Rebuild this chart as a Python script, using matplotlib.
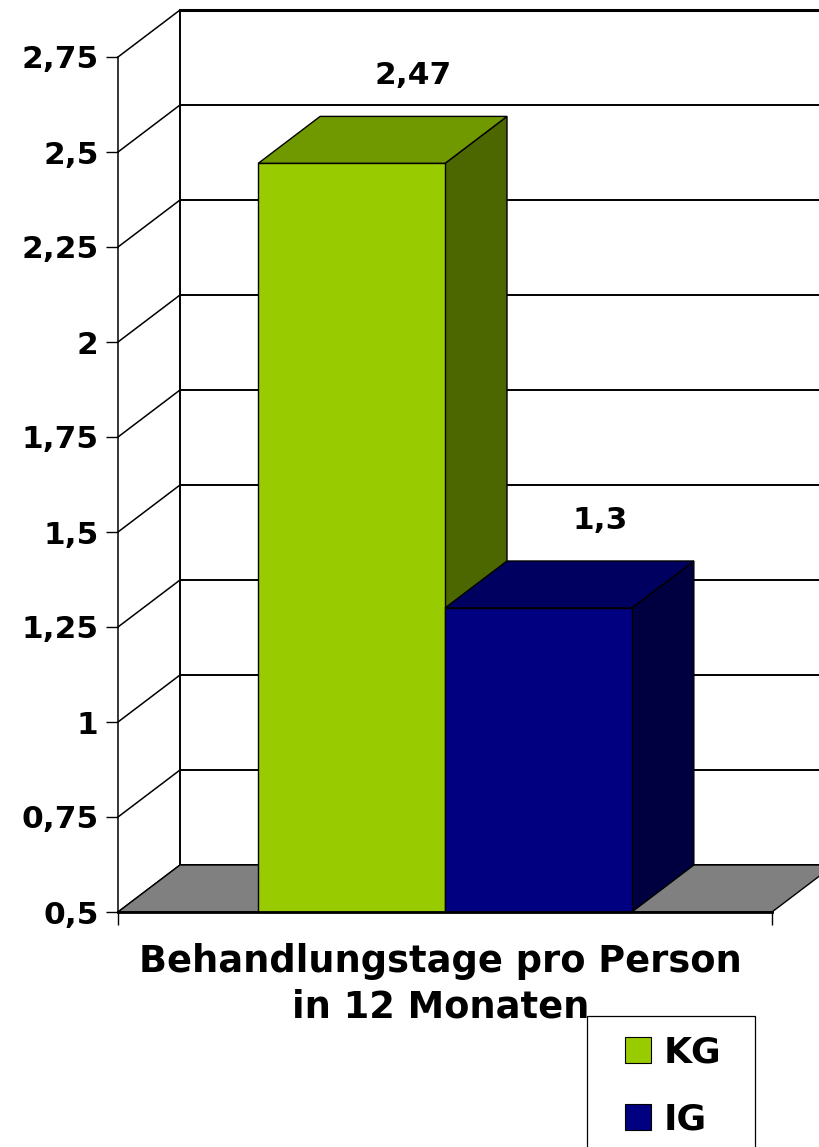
import numpy as np
import matplotlib
matplotlib.use("Agg")
import matplotlib.pyplot as plt
from matplotlib.patches import Polygon, Patch, Rectangle
from matplotlib.legend_handler import HandlerPatch
from matplotlib.transforms import IdentityTransform, ScaledTranslation

# ---------------- data ----------------
series = ["KG", "IG"]
values = [2.47, 1.3]
value_labels = ["2,47", "1,3"]
category = "Behandlungstage pro Person\nin 12 Monaten"
yticks = [0.5, 0.75, 1.0, 1.25, 1.5, 1.75, 2.0, 2.25, 2.5, 2.75]
ytick_labels = ["0,5", "0,75", "1", "1,25", "1,5", "1,75", "2", "2,25", "2,5", "2,75"]

# ---------------- style ----------------
front_colors = ["#99CC00", "#000080"]
top_colors = ["#709900", "#000060"]
side_colors = ["#4C6600", "#000040"]
floor_color = "#808080"
gap_width = 1.5  # Excel gap width 150 %
depth_in = (0.62, 0.47)  # 3-D depth offset (inches, right / up)

W, H, DPI = 820, 1147, 100
fig = plt.figure(figsize=(W / DPI, H / DPI), dpi=DPI)
ax = fig.add_axes([118 / W, (H - 912) / H, 654 / W, 855 / H])
ax.set_xlim(0, 1)
ax.set_ylim(yticks[0], yticks[-1])
ax.set_facecolor("none")

for s in ["top", "right"]:
    ax.spines[s].set_visible(False)
ax.spines["left"].set_linewidth(1.1)
ax.spines["bottom"].set_linewidth(2.0)
ax.spines["left"].set_zorder(5)
ax.spines["bottom"].set_zorder(5)

FONT = dict(family="DejaVu Sans", fontweight="bold")

ax.set_yticks(yticks)
ax.set_yticklabels(ytick_labels, fontsize=22.5, **FONT)
ax.tick_params(axis="y", length=8.6, width=1.0, pad=5.5, direction="out")
ax.set_xticks([0, 1])
ax.set_xticklabels(["", ""])
ax.tick_params(axis="x", length=9.4, width=1.0, direction="out")

fig.canvas.draw()
off = np.array(depth_in) * fig.dpi
back_trans = ax.transData + ScaledTranslation(depth_in[0], depth_in[1], fig.dpi_scale_trans)


def P(x, y, d=0.0):
    return ax.transData.transform((x, y)) + d * off


def poly(pts, fc, z, lw=1.0):
    ax.add_patch(Polygon(np.array(pts), closed=True, transform=IdentityTransform(),
                         facecolor=fc, edgecolor="black", linewidth=lw,
                         clip_on=False, zorder=z, joinstyle="miter"))


ymin = yticks[0]
# back wall gridlines + back vertical
for t in yticks:
    lw = 2.2 if t == yticks[-1] else 1.4
    ax.plot([0, 1], [t, t], color="black", lw=lw, transform=back_trans,
            clip_on=False, zorder=1, solid_capstyle="butt")
ax.plot([0, 0], [yticks[0], yticks[-1]], color="black", lw=1.4,
        transform=back_trans, clip_on=False, zorder=1)
# left wall diagonals
for t in yticks:
    a, b = P(0, t, 0), P(0, t, 1)
    ax.plot([a[0], b[0]], [a[1], b[1]], color="black", lw=1.1,
            transform=IdentityTransform(), clip_on=False, zorder=1)

# floor
poly([P(0, ymin, 0), P(1, ymin, 0), P(1, ymin, 1), P(0, ymin, 1)], floor_color, 2)

# bars
n = len(series)
w = 1.0 / (n + gap_width)
for i, (v, lab) in enumerate(zip(values, value_labels)):
    x0 = gap_width / 2 * w + i * w
    x1 = x0 + w
    z = 3 + i
    poly([P(x1, ymin, 0), P(x1, ymin, 1), P(x1, v, 1), P(x1, v, 0)], side_colors[i], z)
    poly([P(x0, v, 0), P(x1, v, 0), P(x1, v, 1), P(x0, v, 1)], top_colors[i], z)
    poly([P(x0, ymin, 0), P(x1, ymin, 0), P(x1, v, 0), P(x0, v, 0)], front_colors[i], z)
    ax.annotate(lab, xy=((x0 + x1) / 2, v), xycoords="data",
                xytext=(depth_in[0] * 72, depth_in[1] * 72 + 29.5),
                textcoords="offset points", ha="center", va="center",
                fontsize=22.5, zorder=10, **FONT)


# legend with square keys placed at the right of the handle box
def square_patch(legend, orig_handle, xdescent, ydescent, width, height, fontsize):
    return Rectangle((-xdescent + width - height, -ydescent), height, height)


handles = [Patch(facecolor=c, edgecolor="black", linewidth=0.8) for c in front_colors]
top = 1 - 1016 / H
leg = fig.legend(handles, series, loc="upper left",
                 bbox_to_anchor=(587 / W, top - 0.2, 168 / W, 0.2), mode="expand",
                 borderaxespad=0, frameon=True, fancybox=False, framealpha=1,
                 edgecolor="black",
                 prop=dict(family="DejaVu Sans", weight="bold", size=26),
                 handlelength=1.22, handleheight=0.72, handletextpad=0.36,
                 borderpad=0.55, labelspacing=0.9,
                 handler_map={Patch: HandlerPatch(patch_func=square_patch)})
leg.get_frame().set_linewidth(0.9)
leg.set_zorder(4)

# category label (drawn above the legend frame)
lbl = ax.annotate(category, xy=(0.5, 0), xycoords="axes fraction",
                  xytext=(-3, -22), textcoords="offset points",
                  ha="center", va="top", fontsize=26.5, linespacing=1.3,
                  annotation_clip=False, **FONT)
lbl.set_zorder(20)

fig.savefig("out.png", dpi=DPI)
